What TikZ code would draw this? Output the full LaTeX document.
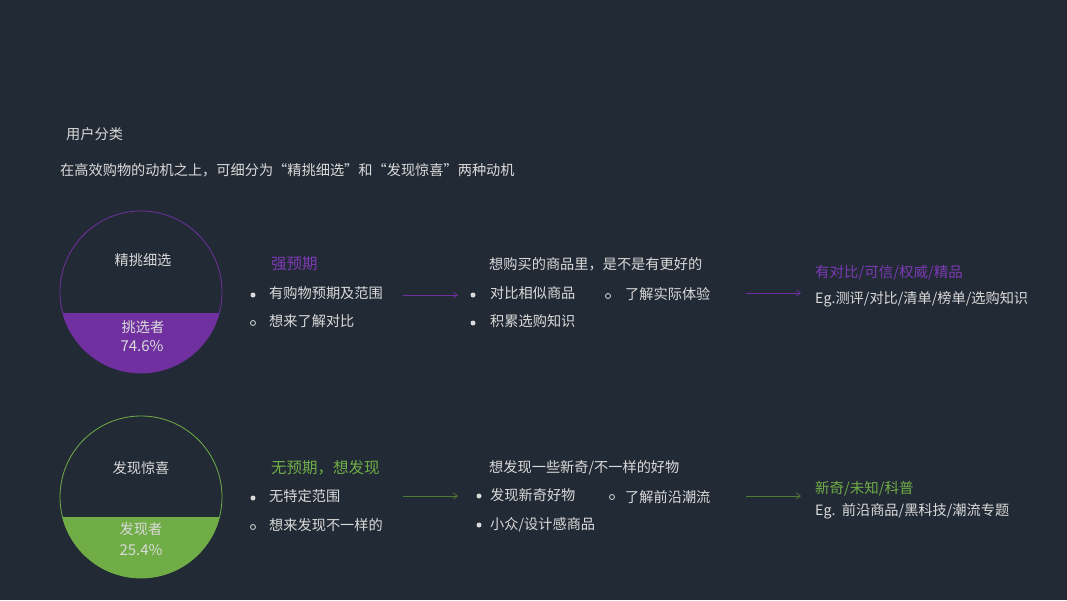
\documentclass[tikz,border=0pt]{standalone}
\usepackage{fontspec}
\setmainfont{Noto Sans CJK SC}
\usetikzlibrary{arrows.meta}
\definecolor{bg}{HTML}{222A35}
\definecolor{fg}{HTML}{DADADA}
\definecolor{pur}{HTML}{7030A0}
\definecolor{purt}{HTML}{7C3AB4}
\definecolor{grn}{HTML}{70AD47}
\definecolor{grnd}{HTML}{4E7A34}
\tikzset{
  txt/.style={anchor=west,inner sep=0pt,text=fg,font=\fontsize{14.2}{16}\selectfont},
  head/.style={anchor=west,inner sep=0pt,font=\fontsize{15.5}{17}\selectfont},
  ctxt/.style={inner sep=0pt,text=fg,font=\fontsize{14.2}{16}\selectfont},
  dotf/.style={circle,fill=fg,inner sep=0pt,minimum size=5pt},
  doto/.style={circle,draw=fg,line width=0.8pt,inner sep=0pt,minimum size=5pt},
  flow/.style={line width=0.7pt,-{Straight Barb[length=4pt,width=6pt]}},
}
\begin{document}
\begin{tikzpicture}[x=1pt,y=-1pt]
\fill[bg] (0,0) rectangle (1067,600);
\useasboundingbox (0,0) rectangle (1067,600);

\node[txt] (title) at (66,134) {用户分类};
\node[txt] (intro) at (60,170) {在高效购物的动机之上，可细分为“精挑细选”和“发现惊喜”两种动机};

% circle 1
\begin{scope}
\clip (50,313) rectangle (235,380);
\fill[pur] (141,292) circle (81pt);
\end{scope}
\draw[pur,line width=0.8pt] (141,292) circle (81pt);
\node[ctxt] (c1t) at (143,260) {精挑细选};
\node[ctxt] (c1a) at (143,327) {挑选者};
\node[ctxt,font=\fontsize{15}{17}\selectfont] (c1b) at (142,346) {74.6\%};

% circle 2
\begin{scope}
\clip (50,517) rectangle (235,585);
\fill[grn] (141,497) circle (81pt);
\end{scope}
\draw[grn,line width=0.8pt] (141,497) circle (81pt);
\node[ctxt] (c2t) at (141,468) {发现惊喜};
\node[ctxt] (c2a) at (141,529) {发现者};
\node[ctxt,font=\fontsize{15}{17}\selectfont] (c2b) at (141,550) {25.4\%};

% row 1
\node[head,text=purt] (h1) at (271,264) {强预期};
\node[dotf] (d11) at (253,295) {};
\node[txt] (t11) at (269,293) {有购物预期及范围};
\node[doto] (d12) at (253,323) {};
\node[txt] (t12) at (269,321) {想来了解对比};
\coordinate (a1s) at (403,295);
\coordinate (a1e) at (458,295);
\draw[flow,pur] (a1s) -- (a1e);
\node[txt] (m1) at (489,264) {想购买的商品里，是不是有更好的};
\node[dotf] (d13) at (473,295) {};
\node[txt] (t13) at (490,293) {对比相似商品};
\node[doto] (d14) at (608,296) {};
\node[txt] (t14) at (625,294) {了解实际体验};
\node[dotf] (d15) at (473,323) {};
\node[txt] (t15) at (490,321) {积累选购知识};
\coordinate (b1s) at (746,293);
\coordinate (b1e) at (801,293);
\draw[flow,pur] (b1s) -- (b1e);
\node[head,text=purt,font=\fontsize{14.5}{16}\selectfont] (r1) at (815,273) {有对比/可信/权威/精品};
\node[txt] (e1) at (815,299) {Eg.测评/对比/清单/榜单/选购知识};

% row 2
\node[head,text=grn] (h2) at (271,468) {无预期，想发现};
\node[dotf] (d21) at (253,498) {};
\node[txt] (t21) at (269,496) {无特定范围};
\node[doto] (d22) at (253,527) {};
\node[txt] (t22) at (269,525) {想来发现不一样的};
\coordinate (a2s) at (403,496);
\coordinate (a2e) at (458,496);
\draw[flow,grnd] (a2s) -- (a2e);
\node[txt] (m2) at (489,468) {想发现一些新奇/不一样的好物};
\node[dotf] (d23) at (479,496) {};
\node[txt] (t23) at (490,495) {发现新奇好物};
\node[doto] (d24) at (612,497) {};
\node[txt] (t24) at (625,497) {了解前沿潮流};
\node[dotf] (d25) at (479,525) {};
\node[txt] (t25) at (490,525) {小众/设计感商品};
\coordinate (b2s) at (746,496);
\coordinate (b2e) at (801,496);
\draw[flow,grnd] (b2s) -- (b2e);
\node[head,text=grn,font=\fontsize{14.5}{16}\selectfont] (r2) at (815,489) {新奇/未知/科普};
\node[txt] (e2) at (815,511) {Eg.~~前沿商品/黑科技/潮流专题};
\end{tikzpicture}
\end{document}
